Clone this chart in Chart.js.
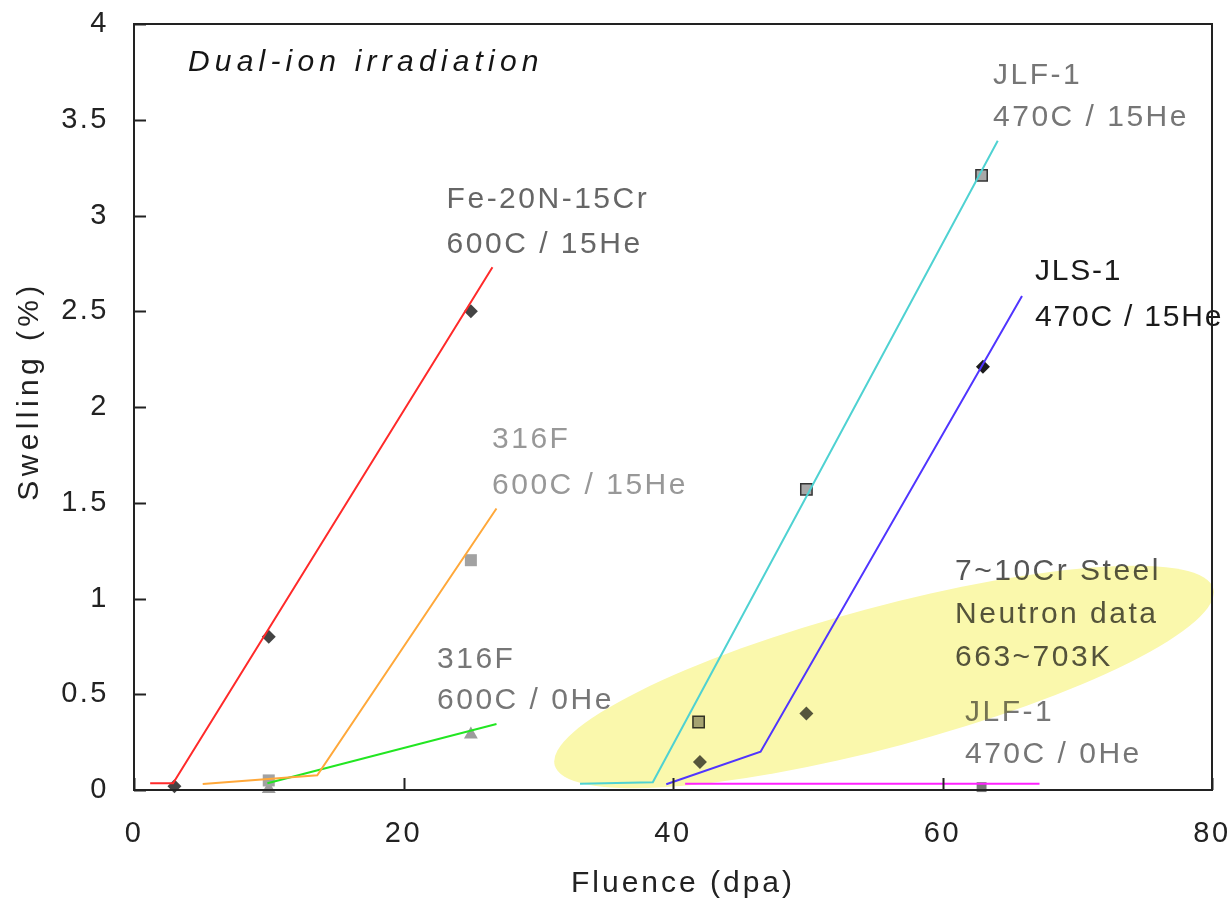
<!DOCTYPE html>
<html><head><meta charset="utf-8">
<script src="https://cdn.jsdelivr.net/npm/chart.js@4.4.0/dist/chart.umd.min.js"></script>
<style>html,body{margin:0;padding:0;background:#fff;}#wrap{width:1231px;height:911px;}</style>
</head><body><div id="wrap"><canvas id="c" width="1231" height="911"></canvas></div>
<script>
const FAMILY = '"Liberation Sans", Arial, sans-serif';
const xTicks = [0, 20, 40, 60, 80];
const yTicks = [0, 0.5, 1, 1.5, 2, 2.5, 3, 3.5, 4];

// fitted lines
const feLine       = [{x:1.2,y:0.035},{x:2.9,y:0.035},{x:26.6,y:2.73}];
const f316HeLine   = [{x:5.1,y:0.031},{x:13.6,y:0.077},{x:26.9,y:1.47}];
const f316NoHeLine = [{x:9.9,y:0.035},{x:26.9,y:0.345}];
const jlf1HeLine   = [{x:33.1,y:0.033},{x:38.5,y:0.04},{x:64.1,y:3.39}];
const jls1HeLine   = [{x:39.5,y:0.03},{x:46.5,y:0.2},{x:65.9,y:2.58}];
const jlf1NoHeLine = [{x:40.9,y:0.033},{x:67.2,y:0.033}];

// measured points
const fePts       = [{x:3,y:0.02},{x:10,y:0.8},{x:25,y:2.5}];
const f316HePts   = [{x:10,y:0.05},{x:25,y:1.2}];
const f316NoHePts = [{x:10,y:0.005},{x:25,y:0.29}];
const jlf1HePts   = [{x:41.9,y:0.355},{x:49.9,y:1.57},{x:62.9,y:3.21}];
const jls1HePts   = [{x:42,y:0.146},{x:49.9,y:0.40},{x:63,y:2.21}];
const jlf1NoHePts = [{x:62.9,y:0.015}];

// text annotations (anchor in data units = left / middle of first line)
const notes = [
  {lines:['Dual-ion irradiation'], x:4.0, y:3.80, color:'#151515', italic:true, gap:0, ls:'5.2px'},
  {lines:['Fe-20N-15Cr','600C / 15He'], x:23.2, y:3.08, color:'#666666', gap:45},
  {lines:['316F','600C / 15He'], x:26.57, y:1.83, color:'#989898', gap:46},
  {lines:['316F','600C / 0He'], x:22.49, y:0.68, color:'#767676', gap:41},
  {lines:['JLF-1','470C / 15He'], x:63.75, y:3.73, color:'#767676', gap:42},
  {lines:['JLS-1','470C / 15He'], x:66.86, y:2.705, color:'#1a1a1a', gap:46, ls:'1.8px'},
  {lines:['7~10Cr Steel','Neutron data','663~703K'], x:60.93, y:1.138, color:'#555555', gap:43},
  {lines:['JLF-1','470C / 0He'], x:61.67, y:0.402, color:'#767676', gap:42}
];
const ellipse = {cx:55.66, cy:0.59, ex:80.1, ey:1.051, ry:70};

const lineDs = (data, color) => ({data, showLine:true, borderColor:color, borderWidth:2, pointRadius:0, fill:false, order:1, clip:false, tension:0});
const ptDs = (data, style, r, fill, stroke, bw) => ({data, showLine:false, pointStyle:style, pointRadius:r, pointBackgroundColor:fill, pointBorderColor:stroke, pointBorderWidth:bw, order:2, clip:false});
const noPad = s => { s.paddingLeft = 0; s.paddingRight = 0; s.paddingTop = 0; s.paddingBottom = 0; };

function drawNotesAndEllipse(chart){
  const {ctx, scales:{x, y}} = chart;
  ctx.save();
  notes.forEach(n => {
    ctx.font = (n.italic ? 'italic ' : '') + '30px ' + FAMILY;
    ctx.fillStyle = n.color; ctx.textAlign = 'left'; ctx.textBaseline = 'middle';
    ctx.letterSpacing = n.ls || '2.5px';
    const px = x.getPixelForValue(n.x), py = y.getPixelForValue(n.y);
    n.lines.forEach((t, i) => ctx.fillText(t, px, py + i * n.gap));
  });
  const cx = x.getPixelForValue(ellipse.cx), cy = y.getPixelForValue(ellipse.cy);
  const ex = x.getPixelForValue(ellipse.ex), ey = y.getPixelForValue(ellipse.ey);
  const rx = Math.hypot(ex - cx, ey - cy), ang = Math.atan2(ey - cy, ex - cx);
  ctx.globalCompositeOperation = 'multiply';
  ctx.fillStyle = 'rgb(250,248,172)';
  ctx.beginPath(); ctx.ellipse(cx, cy, rx, ellipse.ry, ang, 0, Math.PI * 2); ctx.fill();
  ctx.restore();
}

const FIRST_MARKER_INDEX = 6; // last marker dataset to be drawn (before the lines)

const decor = {
  id:'decor',
  beforeDraw(chart){ chart.ctx.letterSpacing = '2.5px'; },
  afterDatasetDraw(chart, args){ if (args.index === FIRST_MARKER_INDEX) drawNotesAndEllipse(chart); },
  afterDraw(chart){
    const {ctx, chartArea:a, scales:{x, y}} = chart;
    ctx.save();
    ctx.strokeStyle = '#222'; ctx.lineWidth = 2;
    ctx.strokeRect(a.left, a.top, a.right - a.left, a.bottom - a.top);
    ctx.beginPath();
    yTicks.forEach(v => { const p = Math.round(y.getPixelForValue(v)) + 0.5; ctx.moveTo(a.left, p); ctx.lineTo(a.left + 12, p); });
    xTicks.forEach(v => { const p = Math.round(x.getPixelForValue(v)) + 0.5; ctx.moveTo(p, a.bottom); ctx.lineTo(p, a.bottom - 12); });
    ctx.stroke();
    ctx.fillStyle = '#222'; ctx.font = '30px ' + FAMILY; ctx.letterSpacing = '3px';
    ctx.textAlign = 'center'; ctx.textBaseline = 'middle';
    ctx.fillText('Fluence (dpa)', (a.left + a.right) / 2 + 10, 884);
    ctx.letterSpacing = '4.4px';
    ctx.translate(30, (a.top + a.bottom) / 2 - 16); ctx.rotate(-Math.PI / 2);
    ctx.fillText('Swelling (%)', 0, 0);
    ctx.restore();
  }
};

new Chart(document.getElementById('c'), {
  type:'scatter',
  data:{datasets:[
    lineDs(feLine, '#ff2a2a'),
    lineDs(f316HeLine, '#ffa83a'),
    lineDs(f316NoHeLine, '#22e622'),
    lineDs(jlf1HeLine, '#4fd2d2'),
    lineDs(jls1HeLine, '#5035ff'),
    lineDs(jlf1NoHeLine, '#ff22ff'),
    ptDs(fePts, 'rectRot', 7, '#444444', '#444444', 0),
    ptDs(f316HePts, 'rect', 8.5, '#a2a2a2', '#a2a2a2', 0),
    ptDs(f316NoHePts, 'triangle', 8, '#9c9c9c', '#9c9c9c', 0),
    ptDs(jlf1HePts, 'rect', 8, '#a8a8a8', '#333333', 1.5),
    ptDs(jls1HePts, 'rectRot', 7, ['#585858', '#585858', '#1c1c1c'], ['#585858', '#585858', '#1c1c1c'], 0),
    ptDs(jlf1NoHePts, 'rect', 7, '#777777', '#777777', 0)
  ]},
  options:{
    responsive:false, animation:false, devicePixelRatio:1,
    layout:{padding:{top:24, right:19, left:0, bottom:0}},
    plugins:{legend:{display:false}, tooltip:{enabled:false}},
    scales:{
      x:{type:'linear', min:0, max:80,
         afterBuildTicks:s => { s.ticks = xTicks.map(v => ({value:v})); },
         afterFit:s => { s.height = 121; noPad(s); },
         grid:{display:false, drawTicks:false}, border:{display:false},
         ticks:{padding:27, autoSkip:false, maxRotation:0, color:'#222', font:{size:29, family:FAMILY}, callback:v => String(v)}},
      y:{type:'linear', min:0, max:4,
         afterBuildTicks:s => { s.ticks = yTicks.map(v => ({value:v})); },
         afterFit:s => { s.width = 134; noPad(s); },
         grid:{display:false, drawTicks:false}, border:{display:false},
         ticks:{padding:25, autoSkip:false, color:'#222', font:{size:29, family:FAMILY}, callback:v => String(v)}}
    }
  },
  plugins:[decor]
});
</script></body></html>
